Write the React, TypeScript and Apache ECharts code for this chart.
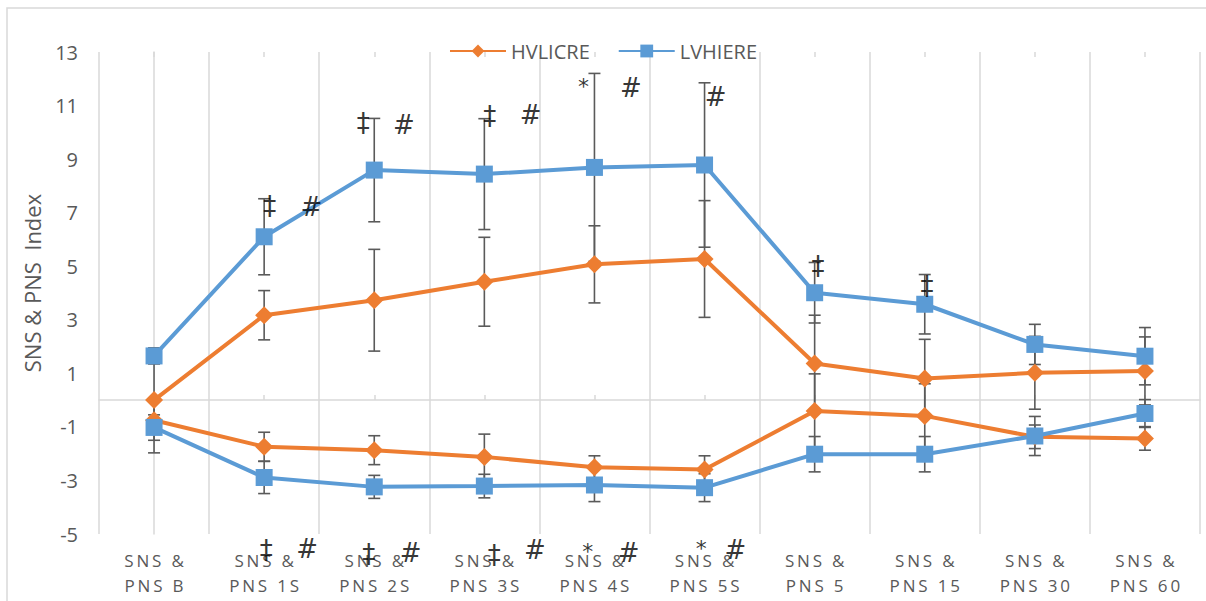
import React, { useEffect, useRef } from "react";
import * as echarts from "echarts";

const categories = [
  "SNS &\nPNS B",
  "SNS &\nPNS 1S",
  "SNS &\nPNS 2S",
  "SNS &\nPNS 3S",
  "SNS &\nPNS 4S",
  "SNS &\nPNS 5S",
  "SNS &\nPNS 5",
  "SNS &\nPNS 15",
  "SNS &\nPNS 30",
  "SNS &\nPNS 60",
];

const yMin = -5;
const yMax = 13;
const yStep = 2;

// SNS index (upper curves)
const hvlicreSNS = [0.0, 3.17, 3.73, 4.42, 5.07, 5.27, 1.37, 0.81, 1.02, 1.09];
const hvlicreSNSErr = [1.5, 0.92, 1.9, 1.66, 1.44, 2.18, 1.8, 1.46, 1.36, 1.27];
const lvhiereSNS = [1.65, 6.1, 8.59, 8.44, 8.69, 8.78, 4.01, 3.58, 2.08, 1.64];
const lvhiereSNSErr = [0.3, 1.42, 1.93, 2.07, 3.51, 3.07, 1.13, 1.11, 0.75, 1.07];

// PNS index (lower curves)
const hvlicrePNS = [-0.75, -1.74, -1.87, -2.12, -2.51, -2.59, -0.41, -0.59, -1.37, -1.43];
const hvlicrePNSErr = [0.2, 0.54, 0.54, 0.85, 0.43, 0.51, 1.39, 1.2, 0.44, 0.44];
const lvhierePNS = [-1.02, -2.89, -3.24, -3.21, -3.17, -3.27, -2.02, -2.02, -1.34, -0.5];
const lvhierePNSErr = [0.95, 0.6, 0.43, 0.44, 0.62, 0.52, 0.66, 0.66, 0.73, 0.52];

// significance marks: text, x (in category units), y (index units)
const markText = ["‡", "#", "‡", "#", "‡", "#", "*", "#", "#", "‡", "‡",
  "‡", "#", "‡", "#", "‡", "#", "*", "#", "*", "#"];
const markX = [1.05, 1.43, 1.9, 2.27, 3.05, 3.42, 3.9, 4.33, 5.1, 6.03, 7.02,
  1.02, 1.39, 1.95, 2.33, 3.09, 3.46, 3.94, 4.31, 4.97, 5.28];
const markY = [7.24, 7.21, 10.34, 10.27, 10.6, 10.64, 11.7, 11.65, 11.31, 5.0, 4.26,
  -5.6, -5.56, -5.75, -5.71, -5.79, -5.6, -5.66, -5.71, -5.55, -5.6];

const ORANGE = "#ED7D31";
const BLUE = "#5B9BD5";
const GRID = "#D9D9D9";
const TEXT = "#595959";
const FONT = "'Open Sans', 'Noto Sans', sans-serif";

function errData(vals: number[], errs: number[]) {
  return vals.map((v, i) => [i, v, errs[i]]);
}

function spaced(s: string) {
  return s
    .split("\n")
    .map((line) => Array.from(line).join("\u2009"))
    .join("\n");
}

export default function App() {
  const ref = useRef<HTMLDivElement>(null);
  useEffect(() => {
    if (!ref.current) return;
    const chart = echarts.init(ref.current, undefined, { renderer: "svg" });

    const lineSeries = (name: string, data: number[], color: string, symbol: string, size: number) => ({
      type: "line",
      name,
      data,
      xAxisIndex: 0,
      yAxisIndex: 0,
      symbol,
      symbolSize: size,
      showSymbol: true,
      itemStyle: { color },
      lineStyle: { color, width: 4 },
      z: 5,
    });

    const errSeries = (data: number[][]) => ({
      type: "custom",
      xAxisIndex: 0,
      yAxisIndex: 0,
      silent: true,
      z: 3,
      clip: false,
      encode: { x: 0, y: 1 },
      data,
      renderItem: (params: any, api: any) => {
        const i = api.value(0);
        const v = api.value(1);
        const e = api.value(2);
        const top = api.coord([i, v + e]);
        const bot = api.coord([i, v - e]);
        const w = 6;
        const style = { stroke: "#5a5a5a", lineWidth: 1.6 };
        return {
          type: "group",
          children: [
            { type: "line", shape: { x1: top[0], y1: top[1], x2: bot[0], y2: bot[1] }, style },
            { type: "line", shape: { x1: top[0] - w, y1: top[1], x2: top[0] + w, y2: top[1] }, style },
            { type: "line", shape: { x1: bot[0] - w, y1: bot[1], x2: bot[0] + w, y2: bot[1] }, style },
          ],
        };
      },
    });

    const option: any = {
      animation: false,
      backgroundColor: "#fff",
      textStyle: { fontFamily: FONT },
      grid: { left: 99, right: 6, top: 52, bottom: 67, containLabel: false },
      legend: {
        data: ["HVLICRE", "LVHIERE"],
        top: 36,
        left: "center",
        itemWidth: 56,
        itemHeight: 16,
        itemGap: 28,
        textStyle: { color: TEXT, fontSize: 20, fontFamily: FONT },
      },
      xAxis: [
        {
          type: "category",
          data: categories,
          boundaryGap: true,
          position: "bottom",
          axisLine: { show: false, onZero: false },
          axisTick: { show: false },
          splitLine: { show: true, lineStyle: { color: GRID, width: 1.5 } },
          axisLabel: {
            interval: 0,
            color: TEXT,
            fontSize: 17,
            lineHeight: 25,
            margin: 14,
            fontFamily: FONT,
            formatter: (v: string) => spaced(v),
          },
        },
        {
          type: "category",
          data: categories,
          boundaryGap: true,
          axisLine: { show: true, onZero: true, lineStyle: { color: GRID, width: 1.5 } },
          axisTick: { show: true, alignWithLabel: true, length: 5, lineStyle: { color: GRID, width: 1.5 } },
          axisLabel: { show: false },
          splitLine: { show: false },
        },
        {
          type: "category",
          data: categories,
          boundaryGap: true,
          axisLine: { show: false, onZero: true },
          axisTick: { show: true, inside: true, alignWithLabel: true, length: 5, lineStyle: { color: GRID, width: 1.5 } },
          axisLabel: { show: false },
          splitLine: { show: false },
        },
        {
          type: "value",
          min: -0.5,
          max: 9.5,
          show: false,
        },
      ],
      yAxis: {
        type: "value",
        min: yMin,
        max: yMax,
        interval: yStep,
        axisLine: { show: true, lineStyle: { color: GRID, width: 1.5 } },
        axisTick: { show: false },
        splitLine: { show: false },
        axisLabel: { color: TEXT, fontSize: 20, margin: 21, fontFamily: FONT },
        name: "SNS & PNS  Index",
        nameLocation: "middle",
        nameGap: 56,
        nameTextStyle: { color: TEXT, fontSize: 22, fontFamily: FONT, padding: [0, 0, 0, 20] },
      },
      series: [
        errSeries(errData(hvlicreSNS, hvlicreSNSErr)),
        errSeries(errData(lvhiereSNS, lvhiereSNSErr)),
        errSeries(errData(hvlicrePNS, hvlicrePNSErr)),
        errSeries(errData(lvhierePNS, lvhierePNSErr)),
        lineSeries("HVLICRE", hvlicreSNS, ORANGE, "diamond", 18),
        lineSeries("LVHIERE", lvhiereSNS, BLUE, "rect", 17),
        lineSeries("HVLICRE", hvlicrePNS, ORANGE, "diamond", 18),
        lineSeries("LVHIERE", lvhierePNS, BLUE, "rect", 17),
        {
          type: "scatter",
          xAxisIndex: 3,
          yAxisIndex: 0,
          silent: true,
          clip: false,
          symbolSize: 0,
          z: 10,
          data: markX.map((x, k) => ({
            value: [x, markY[k]],
            name: markText[k],
            label: { fontSize: markText[k] === "*" ? 22 : 26 },
          })),
          label: {
            show: true,
            position: "inside",
            formatter: "{b}",
            color: "#000",
            fontSize: 26,
            fontFamily: "'DejaVu Sans', sans-serif",
          },
        },
      ],
      graphic: [
        {
          type: "rect",
          shape: { x: 7, y: 8, width: 1220, height: 620 },
          style: { fill: "none", stroke: GRID, lineWidth: 1.5 },
          silent: true,
          z: -1,
        },
      ],
    };

    chart.setOption(option);
    return () => chart.dispose();
  }, []);

  return (
    <div
      ref={ref}
      style={{ position: "fixed", left: 0, top: 0, width: 1206, height: 601, background: "#fff" }}
    />
  );
}
